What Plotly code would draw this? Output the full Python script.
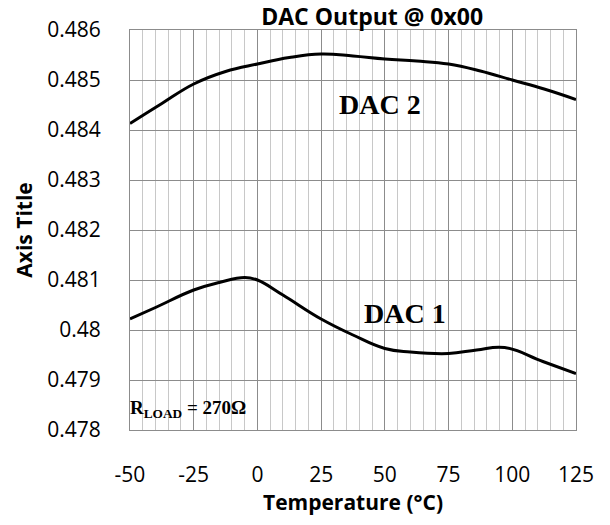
import plotly.graph_objects as go

temps1 = [-50, -40, -25, -15, -5, 0, 10, 25, 37.5, 50, 60, 75, 86, 97, 112, 125]
dac1 = [0.48022, 0.48045, 0.48080, 0.48095, 0.48105, 0.48100, 0.48070, 0.48022, 0.47990,
        0.47963, 0.47956, 0.47953, 0.47960, 0.47965, 0.47937, 0.47913]
temps2 = [-50, -37.5, -25, -12.5, 0, 12.5, 25, 37.5, 50, 62.5, 75, 87.5, 100, 112.5, 125]
dac2 = [0.48413, 0.48453, 0.48492, 0.48517, 0.48532, 0.48545, 0.48552, 0.48548,
        0.48542, 0.48538, 0.48532, 0.48518, 0.48500, 0.48482, 0.48461]

x_ticks = [-50, -25, 0, 25, 50, 75, 100, 125]
x_tick_text = ["-50", "-25", "0", "25", "50", "75", "100", "125"]
y_ticks = [0.478, 0.479, 0.480, 0.481, 0.482, 0.483, 0.484, 0.485, 0.486]
y_tick_text = ["0.478", "0.479", "0.48", "0.481", "0.482", "0.483", "0.484", "0.485", "0.486"]

fig = go.Figure()
for xs, ys, name in [(temps1, dac1, "DAC 1"), (temps2, dac2, "DAC 2")]:
    fig.add_trace(go.Scatter(x=xs, y=ys, mode="lines", name=name,
                             line=dict(color="black", width=3, shape="spline", smoothing=1.2)))

font = "Open Sans, Liberation Sans, sans-serif"
fig.update_layout(
    width=610, height=525,
    margin=dict(l=130, r=34, t=30, b=95),
    paper_bgcolor="white", plot_bgcolor="white",
    showlegend=False,
    title=dict(text="<b>DAC Output @ 0x00</b>", x=0.543, xanchor="center", xref="paper",
               y=0.968, yanchor="middle", font=dict(family=font, size=23, color="black")),
    font=dict(family=font, color="black"),
)
fig.update_xaxes(
    range=[-50, 125], tickvals=x_ticks, ticktext=x_tick_text, tickfont=dict(size=21),
    ticks="outside", ticklen=0, ticklabelstandoff=26,
    showgrid=True, gridcolor="#8c8c8c", gridwidth=1,
    minor=dict(dtick=5, tick0=-50, showgrid=True, gridcolor="#c8c8c8", gridwidth=1),
    showline=True, linecolor="#8c8c8c", mirror=True, zeroline=False,
    title=dict(text="<b>Temperature (°C)</b>", font=dict(size=21), standoff=2),
)
fig.update_yaxes(
    range=[0.478, 0.486], tickvals=y_ticks, ticktext=y_tick_text, tickfont=dict(size=21),
    ticklabelstandoff=24,
    showgrid=True, gridcolor="#8c8c8c", gridwidth=1,
    showline=True, linecolor="#8c8c8c", mirror=True, zeroline=False,
    title=dict(text="<b>Axis Title</b>", font=dict(size=21), standoff=8),
)
serif = "Liberation Serif, Times New Roman, serif"
fig.add_annotation(x=48.1, y=0.48452, xref="x", yref="y", text="<b>DAC 2</b>",
                   showarrow=False, font=dict(family=serif, size=28, color="black"))
fig.add_annotation(x=57.9, y=0.48033, xref="x", yref="y", text="<b>DAC 1</b>",
                   showarrow=False, font=dict(family=serif, size=28, color="black"))
fig.add_annotation(x=-0.004, y=0.47842, xref="paper", yref="y", xanchor="left",
                   text="<b>R<sub>LOAD</sub> = 270Ω</b>",
                   showarrow=False, font=dict(family=serif, size=19, color="black"))

fig.write_html("out.html")
